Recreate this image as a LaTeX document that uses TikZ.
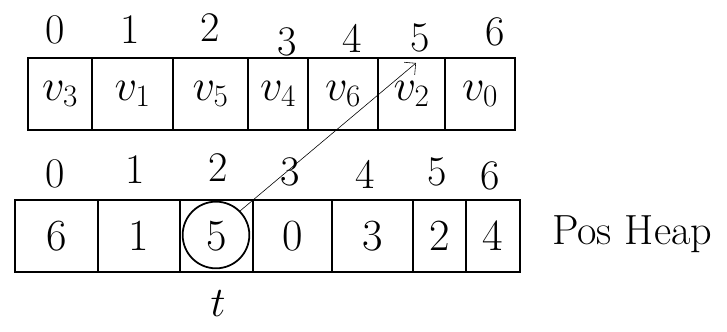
\RequirePackage{fix-cm}
\documentclass[tikz,border=0pt]{standalone}
\usetikzlibrary{arrows.meta}
\tikzset{
  cell/.style={draw, line width=1.5pt, inner sep=0pt, outer sep=0pt, minimum height=2.18cm},
  idx/.style={font=\fontsize{36}{38}\selectfont},
  val/.style={font=\fontsize{38}{40}\selectfont}
}
\begin{document}
\begin{tikzpicture}[x=0.03cm, y=-0.03cm]
  \useasboundingbox (0,0) rectangle (727,331);

  % obere Reihe: Heap
  \foreach \i/\l/\r/\t in {0/28/92/v_3, 1/92/173/v_1, 2/173/248/v_5, 3/248/308/v_4,
                           4/308/378/v_6, 5/378/445/v_2, 6/445/515/v_0}
    \node[cell, minimum width={(\r-\l)*0.03cm}, val] (heap\i) at ({(\l+\r)/2}, 94) {$\t$};
  \foreach \i/\x/\y in {0/55/30, 1/130/30, 2/210/28, 3/287/42, 4/352/38, 5/420/38, 6/495/32}
    \node[idx] (hidx\i) at (\x,\y) {\i};

  % untere Reihe: Pos
  \foreach \i/\l/\r/\t in {0/15/98/6, 1/98/180/1, 2/180/253/5, 3/253/332/0,
                           4/332/413/3, 5/413/466/2, 6/466/520/4}
    \node[cell, minimum width={(\r-\l)*0.03cm}, val] (pos\i) at ({(\l+\r)/2}, 236) {\t};
  \foreach \i/\x/\y in {0/55/174, 1/135/170, 2/218/168, 3/290/172, 4/365/174, 5/437/172, 6/490/176}
    \node[idx] (pidx\i) at (\x,\y) {\i};

  % markierte Position
  \node[draw, circle, line width=1.5pt, minimum size=2.0cm] (mark) at (216,235) {};
  \node[idx] (tlabel) at (218,304) {$t$};

  % Verweis nach oben
  \coordinate (tip) at (416,63);
  \draw[-{Straight Barb[length=7pt]}, line width=0.5pt] (mark.north east) -- (tip);

  \node[font=\fontsize{36}{38}\selectfont, anchor=west] (label) at (548,234) {Pos Heap};
\end{tikzpicture}
\end{document}
